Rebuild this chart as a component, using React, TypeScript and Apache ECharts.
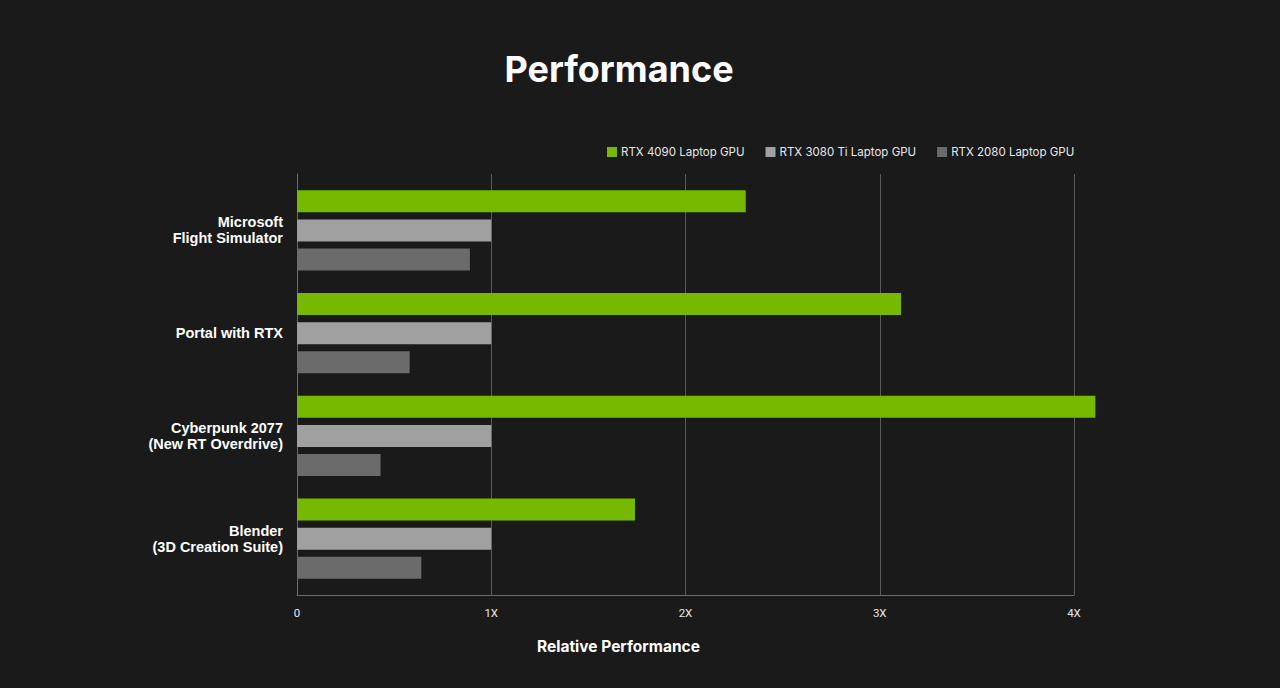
import React, { useEffect, useRef } from "react";
import * as echarts from "echarts";

const categories = [
  "Microsoft\nFlight Simulator",
  "Portal with RTX",
  "Cyberpunk 2077\n(New RT Overdrive)",
  "Blender\n(3D Creation Suite)",
];
const seriesNames = ["RTX 4090 Laptop GPU", "RTX 3080 Ti Laptop GPU", "RTX 2080 Laptop GPU"];
const rtx4090 = [2.31, 3.11, 4.11, 1.74];
const rtx3080ti = [1.0, 1.0, 1.0, 1.0];
const rtx2080 = [0.89, 0.58, 0.43, 0.64];
const xTickLabels = ["0", "1X", "2X", "3X", "4X"];
const colors = ["#76b900", "#a0a0a0", "#6b6b6b"];

export default function App() {
  const ref = useRef<HTMLDivElement>(null);
  useEffect(() => {
    document.body.style.margin = "0";
    document.body.style.background = "#1a1a1a";
    const chart = echarts.init(ref.current!, null, { renderer: "svg" });
    const values = [rtx4090, rtx3080ti, rtx2080];
    chart.setOption({
      animation: false,
      backgroundColor: "#1a1a1a",
      title: {
        text: "Performance",
        left: 614,
        top: 46,
        textAlign: "center",
        textStyle: { color: "#ffffff", fontSize: 36, fontWeight: "bold", fontFamily: "Inter" },
      },
      legend: {
        data: seriesNames,
        left: 602,
        top: 141,
        itemWidth: 10,
        itemHeight: 10,
        itemGap: 21,
        icon: "rect",
        textStyle: { color: "#e8e8e8", fontSize: 11.5, fontFamily: "Inter", padding: [0, 0, 0, -1] },
      },
      graphic: [
        {
          type: "text",
          left: 618 - 81,
          top: 638,
          style: {
            text: "Relative Performance",
            fill: "#ffffff",
            font: "bold 15.5px Inter",
          },
        },
      ],
      grid: [
        { left: 297, right: 206, top: 174, bottom: 93 },
        { left: 297, right: 206, top: 179, bottom: 98 },
      ],
      xAxis: [
        {
          gridIndex: 0,
          type: "value",
          min: 0,
          max: 4,
          interval: 1,
          axisLine: { show: true, lineStyle: { color: "#6a6a6a", width: 1 } },
          axisTick: { show: false },
          splitLine: { show: true, lineStyle: { color: "#5a5a5a", width: 1 } },
          axisLabel: {
            color: "#e8e8e8",
            fontSize: 11.5,
            fontFamily: "Roboto",
            margin: 12,
            formatter: (v: number) => xTickLabels[Math.round(v)] ?? "",
          },
        },
        {
          gridIndex: 1,
          type: "value",
          min: 0,
          max: 4,
          show: false,
        },
      ],
      yAxis: [
        {
          gridIndex: 0,
          type: "category",
          data: categories,
          show: true,
          axisLine: { show: true, lineStyle: { color: "#6a6a6a" } },
          axisTick: { show: false },
          axisLabel: { show: false },
        },
        {
          gridIndex: 1,
          type: "category",
          data: categories,
          inverse: true,
          axisLine: { show: false },
          axisTick: { show: false },
          splitLine: { show: false },
          axisLabel: {
            color: "#ffffff",
            fontSize: 14.5,
            fontWeight: "bold",
            fontFamily: "'Liberation Sans', Arial, sans-serif",
            lineHeight: 16,
            margin: 14,
            align: "right",
            padding: [0, 0, 4, 0],
          },
        },
      ],
      series: values.map((d, i) => ({
        name: seriesNames[i],
        type: "bar",
        xAxisIndex: 1,
        yAxisIndex: 1,
        data: d,
        barWidth: 22,
        barGap: "32%",
        clip: false,
        itemStyle: { color: colors[i] },
      })),
    });
    return () => chart.dispose();
  }, []);
  return <div ref={ref} style={{ width: 1280, height: 688 }} />;
}
